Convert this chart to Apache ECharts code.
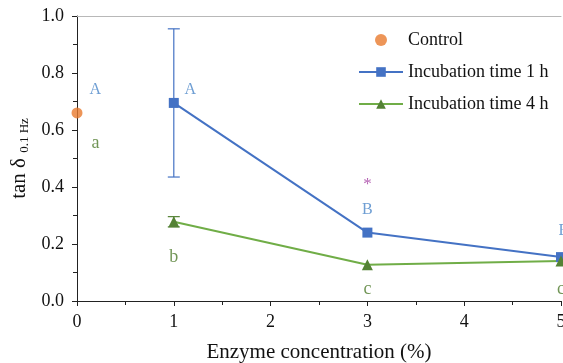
<!DOCTYPE html>
<html>
<head>
<meta charset="utf-8">
<script src="https://cdn.jsdelivr.net/npm/echarts@6/dist/echarts.min.js"></script>
<style>
  html, body { margin: 0; padding: 0; background: #fff; }
  #chart { width: 563px; height: 363px; }
</style>
</head>
<body>
<div id="chart"></div>
<script>
// data
var controlData = [[0, 0.66]];
var concentrations = [1, 3, 5];
var tan1h = [0.695, 0.24, 0.154];
var err1h = [0.26, 0, 0];
var tan4h = [0.278, 0.127, 0.14];
var err4h = [0.018, 0, 0];

// significance letters: [x, y, text]
var blueLetters = [[0.19, 0.74, 'A'], [1.17, 0.74, 'A'], [3, 0.32, 'B'], [5.03, 0.245, 'B']];
var greenLetters = [[0.19, 0.554, 'a'], [1.0, 0.155, 'b'], [3, 0.04, 'c'], [5, 0.04, 'c']];
var starMarks = [[3, 0.41, '*']];

var serif = "'Liberation Serif', 'Times New Roman', serif";
var chart = echarts.init(document.getElementById('chart'));

function pairs(xs, ys) {
    return xs.map(function (x, i) { return [x, ys[i]]; });
}
function errRows(xs, ys, es) {
    return xs.map(function (x, i) { return [x, ys[i], es[i]]; }).filter(function (r) { return r[2] > 0; });
}

function errorBars(color) {
    return function (params, api) {
        var x = api.value(0), y = api.value(1), e = api.value(2);
        var hi = api.coord([x, y + e]);
        var lo = api.coord([x, y - e]);
        var w = 6;
        var style = { stroke: color, lineWidth: 1.2 };
        return {
            type: 'group',
            children: [
                { type: 'line', shape: { x1: hi[0], y1: hi[1], x2: lo[0], y2: lo[1] }, style: style },
                { type: 'line', shape: { x1: hi[0] - w, y1: hi[1], x2: hi[0] + w, y2: hi[1] }, style: style },
                { type: 'line', shape: { x1: lo[0] - w, y1: lo[1], x2: lo[0] + w, y2: lo[1] }, style: style }
            ]
        };
    };
}

function letterSeries(data, color, size) {
    return {
        type: 'scatter',
        data: data,
        symbolSize: 0,
        silent: true,
        clip: false,
        label: {
            show: true,
            position: 'inside',
            formatter: function (p) { return p.data[2]; },
            color: color,
            fontFamily: serif,
            fontSize: size || 15
        }
    };
}

var option = {
    backgroundColor: '#fff',
    animation: false,
    textStyle: { fontFamily: serif },
    grid: { left: 77, right: 2, top: 16, bottom: 62, outerBoundsMode: 'none', containLabel: false },
    legend: {
        orient: 'vertical',
        left: 358,
        top: 31,
        padding: 0,
        itemWidth: 44,
        itemHeight: 12,
        itemGap: 14,
        textStyle: { fontFamily: serif, fontSize: 18, color: '#111' },
        data: [
            { name: 'Control', icon: 'circle' },
            'Incubation time 1 h',
            'Incubation time 4 h'
        ]
    },
    xAxis: [{
        type: 'value',
        min: 0,
        max: 5,
        interval: 1,
        name: 'Enzyme concentration (%)',
        nameLocation: 'middle',
        nameGap: 41,
        nameTextStyle: { fontFamily: serif, fontSize: 21, color: '#111' },
        axisLine: { lineStyle: { color: '#222', width: 1 } },
        axisTick: { show: true, length: 5, inside: false, lineStyle: { color: '#222' } },
        minorTick: { show: true, splitNumber: 2, length: 4, lineStyle: { color: '#222' } },
        axisLabel: { fontFamily: serif, fontSize: 18, color: '#111', margin: 12 },
        splitLine: { show: false }
    }, {
        type: 'value',
        position: 'top',
        min: 0,
        max: 5,
        axisLine: { show: true, lineStyle: { color: '#b8b8b8', width: 1 } },
        axisTick: { show: false },
        axisLabel: { show: false },
        splitLine: { show: false }
    }],
    yAxis: {
        type: 'value',
        min: 0,
        max: 1,
        interval: 0.2,
        name: 'tan δ {sub|0.1 Hz}',
        nameLocation: 'middle',
        nameGap: 44,
        nameTextStyle: {
            fontFamily: serif, fontSize: 21, color: '#111',
            rich: { sub: { fontFamily: serif, fontSize: 13, color: '#111', padding: [9, 0, 0, 0] } }
        },
        axisLine: { show: true, lineStyle: { color: '#222', width: 1 } },
        axisTick: { show: true, length: 5, lineStyle: { color: '#222' } },
        minorTick: { show: true, splitNumber: 2, length: 4, lineStyle: { color: '#222' } },
        axisLabel: {
            fontFamily: serif, fontSize: 18, color: '#111', margin: 13,
            formatter: function (v) { return v.toFixed(1); }
        },
        splitLine: { show: false }
    },
    series: [
        {
            name: 'Incubation time 1 h',
            type: 'line',
            data: pairs(concentrations, tan1h),
            symbol: 'rect',
            symbolSize: 10,
            lineStyle: { color: '#4472C4', width: 2 },
            itemStyle: { color: '#4472C4' },
            z: 3
        },
        {
            name: 'Incubation time 4 h',
            type: 'line',
            data: pairs(concentrations, tan4h),
            symbol: 'triangle',
            symbolSize: 11,
            lineStyle: { color: '#70AD47', width: 2 },
            itemStyle: { color: '#548235' },
            z: 3
        },
        {
            name: 'Control',
            type: 'scatter',
            data: controlData,
            symbol: 'circle',
            symbolSize: 11,
            clip: false,
            itemStyle: { color: '#E97B2E' },
            z: 4
        },
        {
            type: 'custom',
            renderItem: errorBars('#4472C4'),
            data: errRows(concentrations, tan1h, err1h),
            silent: true,
            z: 2
        },
        {
            type: 'custom',
            renderItem: errorBars('#548235'),
            data: errRows(concentrations, tan4h, err4h),
            silent: true,
            z: 2
        },
        letterSeries(blueLetters, '#4A86C8', 16),
        letterSeries(greenLetters, '#4E7A2C', 18),
        letterSeries(starMarks, '#A23BA0', 17)
    ]
};

chart.setOption(option);
window.addEventListener('resize', function () { chart.resize(); });
</script>
</body>
</html>
